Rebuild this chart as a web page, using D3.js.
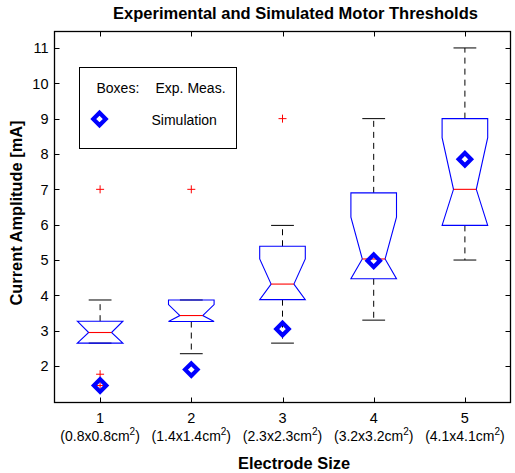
<!DOCTYPE html>
<html>
<head>
<meta charset="utf-8">
<script src="https://cdn.jsdelivr.net/npm/d3@7"></script>
<style>
  body { margin: 0; background: #fff; }
  text { font-family: "Liberation Sans", Arial, Helvetica, sans-serif; fill: #000; }
</style>
</head>
<body>
<div id="chart"></div>
<script>
// ── Data ────────────────────────────────────────────────────────────────
const electrodes = [1, 2, 3, 4, 5];
const sizeLabels = ["0.8x0.8", "1.4x1.4", "2.3x2.3", "3.2x3.2", "4.1x4.1"];
const whiskerLo = [2.65, 2.35, 2.65, 3.3, 5.0];
const q1 = [2.65, 3.26, 3.88, 4.47, 5.98];
const medians = [2.95, 3.43, 4.32, 5.03, 7.0];
const q3 = [3.27, 3.87, 5.39, 6.9, 9.0];
const whiskerHi = [3.87, 3.87, 5.98, 9.0, 11.0];
const notchHalf = [0.33, 0.31, 0.71, 1.18, 1.46];
const outliers = [[1.45, 1.77, 7.0], [7.0], [9.0], [], []];
const simulation = [1.45, 1.9, 3.05, 4.98, 7.85];
const yTicks = [2, 3, 4, 5, 6, 7, 8, 9, 10, 11];

// ── Dimensions ──────────────────────────────────────────────────────────
const W = 515, H = 473;
const plot = { left: 54.5, right: 510.5, top: 31.5, bottom: 402.5 };

const svg = d3.select("#chart").append("svg")
  .attr("width", W).attr("height", H);

const x = d3.scaleLinear().domain([0.5, 5.5]).range([plot.left, plot.right]);
const y = d3.scaleLinear().domain([0.97, 11.465]).range([plot.bottom, plot.top]);

const boxHalf = 0.25, capHalf = 0.125;

// ── Axes frame + ticks ──────────────────────────────────────────────────
svg.append("rect")
  .attr("x", plot.left).attr("y", plot.top)
  .attr("width", plot.right - plot.left).attr("height", plot.bottom - plot.top)
  .attr("fill", "none").attr("stroke", "#000").attr("stroke-width", 1.3);

const tickLen = 5;
svg.append("g").selectAll("line.yl").data(yTicks).join("line")
  .attr("x1", plot.left).attr("x2", plot.left + tickLen)
  .attr("y1", (d) => Math.round(y(d)) + 0.5).attr("y2", (d) => Math.round(y(d)) + 0.5)
  .attr("stroke", "#000");
svg.append("g").selectAll("line.yr").data(yTicks).join("line")
  .attr("x1", plot.right).attr("x2", plot.right - tickLen)
  .attr("y1", (d) => Math.round(y(d)) + 0.5).attr("y2", (d) => Math.round(y(d)) + 0.5)
  .attr("stroke", "#000");
svg.append("g").selectAll("line.xb").data(electrodes).join("line")
  .attr("x1", (d) => Math.round(x(d)) + 0.5).attr("x2", (d) => Math.round(x(d)) + 0.5)
  .attr("y1", plot.bottom).attr("y2", plot.bottom - tickLen)
  .attr("stroke", "#000");
svg.append("g").selectAll("line.xt").data(electrodes).join("line")
  .attr("x1", (d) => Math.round(x(d)) + 0.5).attr("x2", (d) => Math.round(x(d)) + 0.5)
  .attr("y1", plot.top).attr("y2", plot.top + tickLen)
  .attr("stroke", "#000");

// tick labels
svg.append("g").selectAll("text").data(yTicks).join("text")
  .attr("x", plot.left - 6).attr("y", (d) => y(d))
  .attr("dy", "0.36em").attr("text-anchor", "end")
  .style("font-size", "14.5px").text((d) => d);

const xl = svg.append("g").selectAll("g").data(electrodes).join("g")
  .attr("transform", (d) => `translate(${x(d)},0)`);
xl.append("text").attr("y", 423).attr("text-anchor", "middle")
  .style("font-size", "14.5px").text((d) => d);
const sub = xl.append("text").attr("y", 441).attr("text-anchor", "middle")
  .style("font-size", "14px");
sub.append("tspan").text((d, i) => `(${sizeLabels[i]}cm`);
sub.append("tspan").attr("dy", -6).style("font-size", "10px").text("2");
sub.append("tspan").attr("dy", 6).text(")");

// ── Boxes ───────────────────────────────────────────────────────────────
const boxes = svg.append("g").selectAll("g").data(electrodes).join("g");

// whiskers (dashed)
boxes.append("line")
  .attr("x1", (d) => x(d)).attr("x2", (d) => x(d))
  .attr("y1", (d, i) => y(q3[i])).attr("y2", (d, i) => y(whiskerHi[i]))
  .attr("stroke", "#000").attr("stroke-dasharray", "6,5");
boxes.append("line")
  .attr("x1", (d) => x(d)).attr("x2", (d) => x(d))
  .attr("y1", (d, i) => y(q1[i])).attr("y2", (d, i) => y(whiskerLo[i]))
  .attr("stroke", "#000").attr("stroke-dasharray", "6,5");
// caps
boxes.append("line")
  .attr("x1", (d) => x(d - capHalf)).attr("x2", (d) => x(d + capHalf))
  .attr("y1", (d, i) => y(whiskerHi[i])).attr("y2", (d, i) => y(whiskerHi[i]))
  .attr("stroke", "#000");
boxes.append("line")
  .attr("x1", (d) => x(d - capHalf)).attr("x2", (d) => x(d + capHalf))
  .attr("y1", (d, i) => y(whiskerLo[i])).attr("y2", (d, i) => y(whiskerLo[i]))
  .attr("stroke", "#000");

// notched box outline
boxes.append("path")
  .attr("fill", "none").attr("stroke", "#0000ff").attr("stroke-width", 1.1)
  .attr("d", (d, i) => {
    const nHi = Math.min(medians[i] + notchHalf[i], q3[i]);
    const nLo = Math.max(medians[i] - notchHalf[i], q1[i]);
    const x0 = x(d - boxHalf), x1 = x(d + boxHalf);
    const xa = x(d - boxHalf / 2), xb = x(d + boxHalf / 2);
    return d3.line()([
      [x0, y(q3[i])], [x0, y(nHi)], [xa, y(medians[i])], [x0, y(nLo)], [x0, y(q1[i])],
      [x1, y(q1[i])], [x1, y(nLo)], [xb, y(medians[i])], [x1, y(nHi)], [x1, y(q3[i])],
    ]) + "Z";
  });
// median
boxes.append("line")
  .attr("x1", (d) => x(d - boxHalf / 2)).attr("x2", (d) => x(d + boxHalf / 2))
  .attr("y1", (d, i) => y(medians[i])).attr("y2", (d, i) => y(medians[i]))
  .attr("stroke", "#ff0000").attr("stroke-width", 1.1);

// outliers
const plus = (s) => `M${-s},0H${s}M0,${-s}V${s}`;
boxes.each(function (d, i) {
  d3.select(this).selectAll("path.out").data(outliers[i]).join("path")
    .attr("class", "out")
    .attr("transform", (v) => `translate(${x(d)},${y(v)})`)
    .attr("d", plus(4)).attr("stroke", "#ff0000").attr("fill", "none");
});

// simulation diamonds
const diamond = (r) => `M0,${-r}L${r},0L0,${r}L${-r},0Z`;
svg.append("g").selectAll("path").data(simulation).join("path")
  .attr("transform", (v, i) => `translate(${x(electrodes[i])},${y(v)})`)
  .attr("d", diamond(6.2)).attr("fill", "none")
  .attr("stroke", "#0000ff").attr("stroke-width", 4.2);

// ── Legend ──────────────────────────────────────────────────────────────
const lg = svg.append("g");
lg.append("rect").attr("x", 79.5).attr("y", 67.5).attr("width", 157).attr("height", 81)
  .attr("fill", "#fff").attr("stroke", "#000");
lg.append("text").attr("x", 96.5).attr("y", 93).style("font-size", "14px").text("Boxes:");
lg.append("text").attr("x", 155.5).attr("y", 93).style("font-size", "14px").text("Exp. Meas.");
lg.append("path").attr("transform", "translate(99.5,119)").attr("d", diamond(6.2))
  .attr("fill", "none").attr("stroke", "#0000ff").attr("stroke-width", 4.2);
lg.append("text").attr("x", 151.5).attr("y", 125).style("font-size", "14px").text("Simulation");

// ── Titles ──────────────────────────────────────────────────────────────
svg.append("text").attr("x", 295.5).attr("y", 19).attr("text-anchor", "middle")
  .style("font-size", "16.5px").style("font-weight", "bold")
  .text("Experimental and Simulated Motor Thresholds");
svg.append("text").attr("x", 294).attr("y", 469).attr("text-anchor", "middle")
  .style("font-size", "16.4px").style("font-weight", "bold")
  .text("Electrode Size");
svg.append("text").attr("transform", "translate(21.5,213) rotate(-90)")
  .attr("text-anchor", "middle")
  .style("font-size", "16.4px").style("font-weight", "bold")
  .text("Current Amplitude [mA]");
</script>
</body>
</html>
